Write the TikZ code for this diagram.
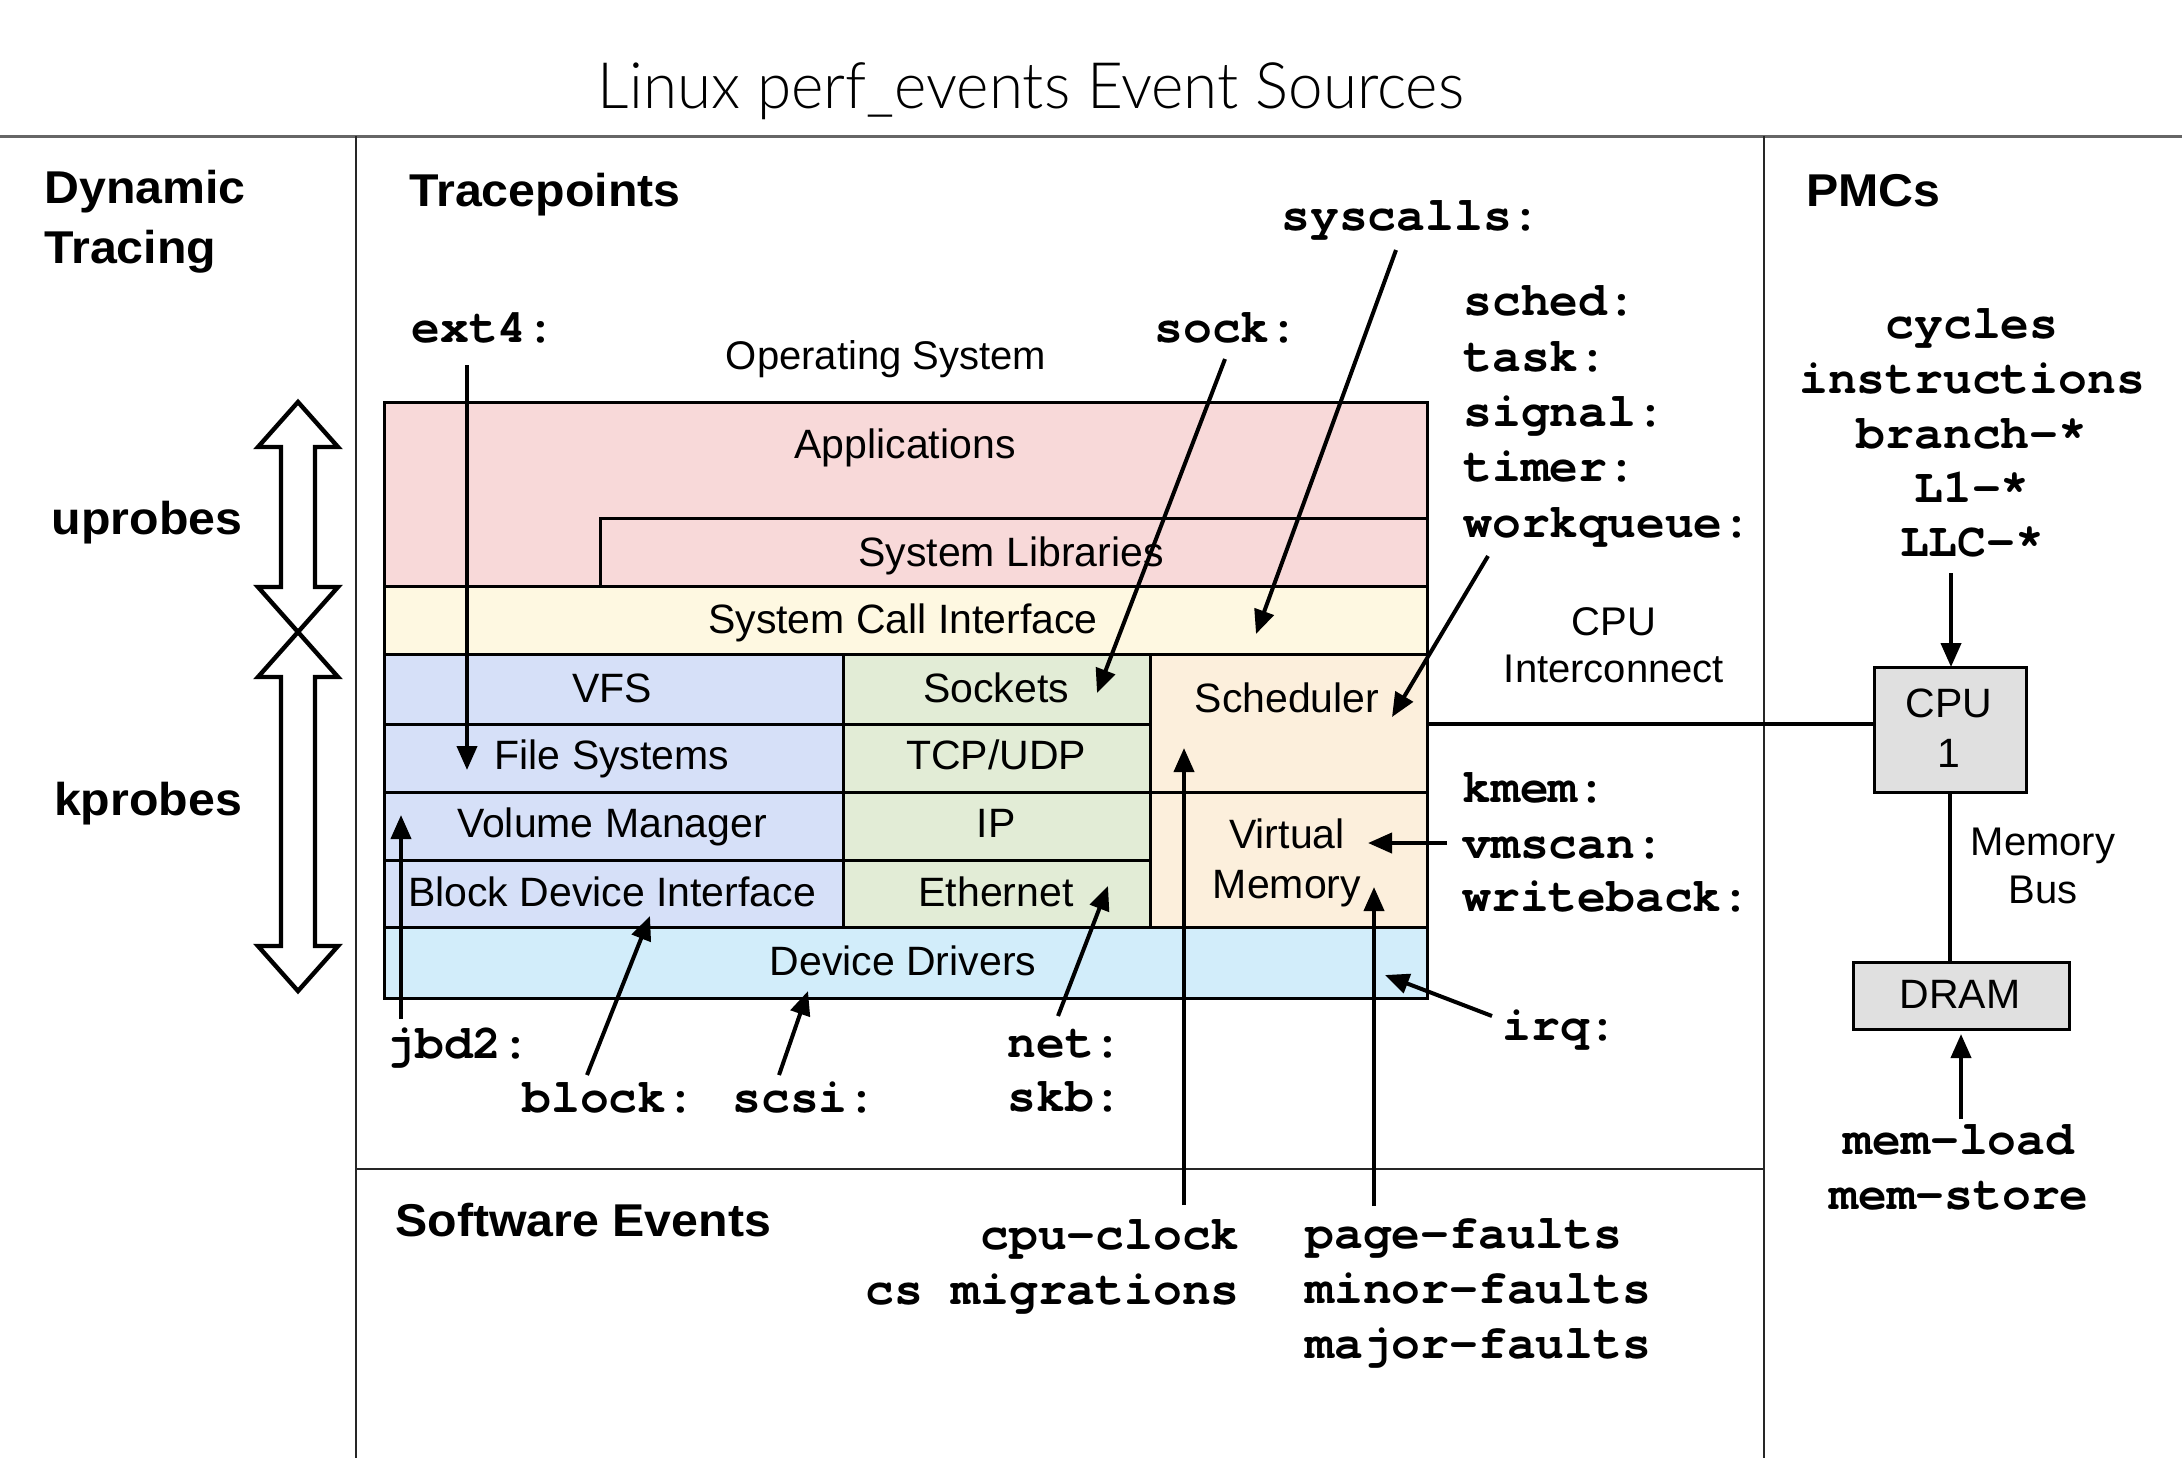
\documentclass[tikz,border=0pt]{standalone}
\usepackage{fontspec}
\setmainfont{Liberation Sans}
\newfontfamily\headfont{Liberation Sans}[FakeStretch=1.05]
\newfontfamily\codefont{TeX Gyre Cursor}
\newfontfamily\titlefont{Lato Light}
\usetikzlibrary{arrows.meta,fit}
\definecolor{cpink}{RGB}{248,217,217}
\definecolor{cyellow}{RGB}{254,248,225}
\definecolor{cblue}{RGB}{214,224,248}
\definecolor{cgreen}{RGB}{226,236,214}
\definecolor{corange}{RGB}{252,239,220}
\definecolor{ccyan}{RGB}{210,237,250}
\definecolor{cgray}{RGB}{224,224,224}
\begin{document}
\begin{tikzpicture}[x=0.5pt,y=-0.5pt,
  box/.style={draw, line width=1.5pt, inner sep=0pt, outer sep=0pt},
  lab/.style={anchor=base, inner sep=0pt, font=\fontsize{20.5}{24}\selectfont},
  light/.style={anchor=base, inner sep=0pt, font=\fontsize{20}{24}\selectfont},
  head/.style={anchor=base west, inner sep=0pt, font=\headfont\bfseries\fontsize{23}{27}\selectfont},
  code/.style={anchor=base west, inner sep=0pt, font=\codefont\bfseries\fontsize{24}{28}\selectfont},
  arr/.style={line width=2pt, -{Triangle[length=12pt,width=10pt]}},
  sep/.style={line width=1.3pt, black!85},
  hollow/.style={draw, fill=white, line width=2.2pt, line join=miter},
  conn/.style={line width=2pt}
]
\useasboundingbox (0,0) rectangle (2182,1458);
\fill[white] (0,0) rectangle (2182,1458);

% title and section lines
\node (title) [anchor=base, inner sep=0pt] at (1031,108)
  {\titlefont\fontsize{32}{38}\selectfont\resizebox{433pt}{\height}{Linux perf\_events Event Sources}};
\coordinate (tlL) at (0,136);
\coordinate (tlR) at (2182,136);
\draw[line width=1.5pt, black!60] (tlL) -- (tlR);
\coordinate (v1t) at (356,136);
\coordinate (v1b) at (356,1458);
\coordinate (v2t) at (1764,136);
\coordinate (v2b) at (1764,1458);
\coordinate (hmL) at (356,1169);
\coordinate (hmR) at (1764,1169);
\draw[sep] (v1t) -- (v1b);
\draw[sep] (v2t) -- (v2b);
\draw[sep] (hmL) -- (hmR);

% headings
\node (hdyn) [head] at (44,203) {Dynamic};
\node (htra) [head] at (44,263) {Tracing};
\node (htp) [head] at (409,206) {Tracepoints};
\node (hpmc) [head] at (1806,206) {PMCs};
\node (hsw) [head] at (395,1236) {Software Events};
\node (hup) [head, anchor=base] at (147,534) {uprobes};
\node (hkp) [head, anchor=base] at (148,815) {kprobes};

% hollow double arrows
\path[hollow] (298,402) -- (338,447) -- (315,447) -- (315,587) -- (338,587) -- (298,632)
  -- (258,587) -- (281,587) -- (281,447) -- (258,447) -- cycle;
\path[hollow] (298,632) -- (338,677) -- (315,677) -- (315,946) -- (338,946) -- (298,991)
  -- (258,946) -- (281,946) -- (281,677) -- (258,677) -- cycle;

% OS stack
\node (os) [light] at (886,369) {Operating System};
\node (apps) [box, fill=cpink, fit={(384,402) (1427,586)}] {};
\node (syslib) [box, fill=cpink, fit={(600,518) (1427,586)}] {};
\node (sci) [box, fill=cyellow, fit={(384,586) (1427,654)}] {};
\node (vfs) [box, fill=cblue, fit={(384,654) (843,724)}] {};
\node (fs) [box, fill=cblue, fit={(384,724) (843,792)}] {};
\node (vm) [box, fill=cblue, fit={(384,792) (843,860)}] {};
\node (bdi) [box, fill=cblue, fit={(384,860) (843,927)}] {};
\node (sock) [box, fill=cgreen, fit={(843,654) (1150,724)}] {};
\node (tcp) [box, fill=cgreen, fit={(843,724) (1150,792)}] {};
\node (ip) [box, fill=cgreen, fit={(843,792) (1150,860)}] {};
\node (eth) [box, fill=cgreen, fit={(843,860) (1150,927)}] {};
\node (sched) [box, fill=corange, fit={(1150,654) (1427,792)}] {};
\node (vmem) [box, fill=corange, fit={(1150,792) (1427,927)}] {};
\node (dd) [box, fill=ccyan, fit={(384,927) (1427,998)}] {};

\node (lapps) [lab] at (905,458) {Applications};
\node (lsyslib) [lab] at (1011,566) {System Libraries};
\node (lsci) [lab] at (903,633) {System Call Interface};
\node (lvfs) [lab] at (612,702) {VFS};
\node (lfs) [lab] at (612,769) {File Systems};
\node (lvm) [lab] at (612,837) {Volume Manager};
\node (lbdi) [lab] at (612,906) {Block Device Interface};
\node (lsock) [lab] at (996,702) {Sockets};
\node (ltcp) [lab] at (996,769) {TCP/UDP};
\node (lip) [lab] at (996,837) {IP};
\node (leth) [lab] at (996,906) {Ethernet};
\node (lsched) [lab] at (1287,712) {Scheduler};
\node (lvirt) [lab] at (1287,848) {Virtual};
\node (lmem) [lab] at (1287,898) {Memory};
\node (ldd) [lab] at (903,975) {Device Drivers};

% hardware
\node (cpu) [box, fill=cgray, fit={(1874,667) (2026,792)}] {};
\node (dram) [box, fill=cgray, fit={(1853,962) (2069,1029)}] {};
\node (lcpu) [lab] at (1949,717) {CPU};
\node (lcpu1) [lab] at (1949,767) {1};
\node (ldram) [lab] at (1960,1008) {DRAM};
\node (lci1) [light] at (1614,635) {CPU};
\node (lci2) [light] at (1614,682) {Interconnect};
\node (lmb1) [light] at (2043,855) {Memory};
\node (lmb2) [light] at (2043,903) {Bus};
\coordinate (icL) at (1427,724);
\draw[conn] (icL) -- (cpu.west |- icL);
\draw[conn] (cpu.south) -- (cpu.south |- dram.north);

% code labels
\node (cext4) [code] at (411,342) {ext4:};
\node (csock) [code] at (1154,342) {sock:};
\node (csys) [code] at (1281,230) {syscalls:};
\node (csched) [code] at (1463,315) {sched:};
\node (ctask) [code] at (1463,371) {task:};
\node (csig) [code] at (1463,426) {signal:};
\node (ctimer) [code] at (1463,481) {timer:};
\node (cwq) [code] at (1463,537) {workqueue:};
\node (ckmem) [code] at (1462,802) {kmem:};
\node (cvms) [code] at (1462,858) {vmscan:};
\node (cwb) [code] at (1462,911) {writeback:};
\node (cirq) [code] at (1502,1040) {irq:};
\node (cjbd) [code] at (386,1058) {jbd2:};
\node (cblk) [code] at (522,1112) {block:};
\node (cscsi) [code] at (732,1112) {scsi:};
\node (cnet) [code] at (1007,1057) {net:};
\node (cskb) [code] at (1007,1111) {skb:};
\node (ccpu) [code, anchor=base east] at (1240,1249) {cpu-clock};
\node (ccs) [code, anchor=base east] at (1240,1304) {cs migrations};
\node (cpf) [code] at (1305,1248) {page-faults};
\node (cmin) [code] at (1305,1303) {minor-faults};
\node (cmaj) [code] at (1305,1358) {major-faults};
\node (pcyc) [code, anchor=base] at (1972,338) {cycles};
\node (pins) [code, anchor=base] at (1972,393) {instructions};
\node (pbr) [code, anchor=base] at (1972,448) {branch-*};
\node (pl1) [code, anchor=base] at (1972,502) {L1-*};
\node (pllc) [code, anchor=base] at (1972,556) {LLC-*};
\node (pml) [code, anchor=base] at (1959,1154) {mem-load};
\node (pms) [code, anchor=base] at (1959,1209) {mem-store};

% arrows
\coordinate (a1t) at (467,365);   \coordinate (a1h) at (467,770);
\coordinate (a2t) at (1225,359);  \coordinate (a2h) at (1097,693);
\coordinate (a3t) at (1396,250);  \coordinate (a3h) at (1256,634);
\coordinate (a4t) at (1488,556);  \coordinate (a4h) at (1392,717);
\coordinate (a5t) at (1184,1205); \coordinate (a5h) at (1184,748);
\coordinate (a6t) at (1374,1206); \coordinate (a6h) at (1374,887);
\coordinate (a7t) at (1447,843);  \coordinate (a7h) at (1368,843);
\coordinate (a8t) at (1492,1016); \coordinate (a8h) at (1385,975);
\coordinate (a9t) at (401,1019);  \coordinate (a9h) at (401,815);
\coordinate (a10t) at (587,1075); \coordinate (a10h) at (650,916);
\coordinate (a11t) at (779,1075); \coordinate (a11h) at (808,991);
\coordinate (a12t) at (1058,1016);\coordinate (a12h) at (1108,886);
\coordinate (a13t) at (1951,573);
\coordinate (a14t) at (1961,1119);\coordinate (a14h) at (1961,1034);
\draw[arr] (a1t) -- (a1h);
\draw[arr] (a2t) -- (a2h);
\draw[arr] (a3t) -- (a3h);
\draw[arr] (a4t) -- (a4h);
\draw[arr] (a5t) -- (a5h);
\draw[arr] (a6t) -- (a6h);
\draw[arr] (a7t) -- (a7h);
\draw[arr] (a8t) -- (a8h);
\draw[arr] (a9t) -- (a9h);
\draw[arr] (a10t) -- (a10h);
\draw[arr] (a11t) -- (a11h);
\draw[arr] (a12t) -- (a12h);
\draw[arr] (a13t) -- (a13t |- cpu.north);
\draw[arr] (a14t) -- (a14h);
\end{tikzpicture}
\end{document}
